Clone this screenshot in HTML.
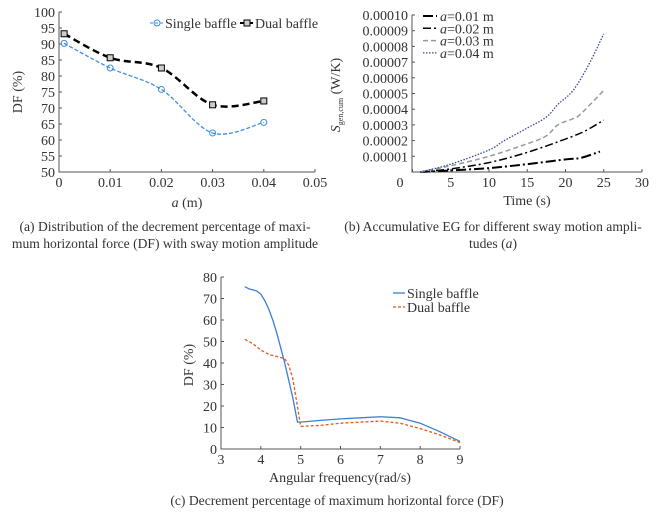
<!DOCTYPE html>
<html><head><meta charset="utf-8"><style>
body{margin:0;background:#fff}
svg{display:block;font-family:"Liberation Serif",serif;font-size:14px;fill:#333}
</style></head><body>
<svg id="s" width="657" height="513" viewBox="0 0 657 513" xmlns="http://www.w3.org/2000/svg"></svg>
<script>
// Chart (a)
const aX = [0.001, 0.01, 0.02, 0.03, 0.04];
const aSingle = [90.2, 82.5, 75.8, 62.2, 65.5];
const aDual = [93.2, 85.7, 82.5, 71, 72.2];
const aXTicks = ["0","0.01","0.02","0.03","0.04","0.05"];
const aYTicks = [50,55,60,65,70,75,80,85,90,95,100];
// Chart (b)
const bTicksX = [0,5,10,15,20,25,30];
const bTicksY = ["0.00001","0.00002","0.00003","0.00004","0.00005","0.00006","0.00007","0.00008","0.00009","0.00010"];
const bT04 = [1,5,10,12,15,17.5,19,21,23,25];
const bV04 = [0,0.5,1.4,2.0,2.8,3.5,4.3,5.2,6.8,8.8];
const bT03 = [1,5,10,15,17.5,19,21,22,25];
const bV03 = [0,0.4,1.0,1.8,2.3,3.0,3.4,3.7,5.2];
const bT02 = [1,5,10,15,20,22.5,25];
const bV02 = [0,0.2,0.6,1.25,2.1,2.6,3.3];
const bT01 = [1,5,10,15,20,22,24.5];
const bV01 = [0,0.1,0.25,0.5,0.8,0.9,1.3];
// Chart (c)
const cW1 = [3.6,3.7,3.8,3.9,4.0,4.1,4.2,4.3,4.4,4.5,4.6,4.7,4.8,4.92,5.0,5.5,6,6.5,7,7.5,8,8.5,9];
const cSingle = [75.5,74.5,74,73.5,72,69,65,60,54,47,40,32,24,12.5,12.5,13.3,14,14.5,15,14.5,12,8,3.5];
const cW2 = [3.6,3.8,4.0,4.2,4.4,4.6,4.7,4.8,4.9,5.0,5.5,6,6.5,7,7.5,8,8.5,9];
const cDual = [51,49,46,44,43,42,39,33,22,10.5,11,12,12.5,13,12,9.5,6.5,3];
const cXTicks = [3,4,5,6,7,8,9];
const cYTicks = [0,10,20,30,40,50,60,70,80];

const S = document.getElementById('s');
const NS = 'http://www.w3.org/2000/svg';
function el(tag, at, txt){const e=document.createElementNS(NS,tag);for(const k in at)e.setAttribute(k,at[k]);if(txt!==undefined)e.textContent=txt;S.appendChild(e);return e;}
function smooth(pts){let d='M'+pts[0][0]+','+pts[0][1];for(let i=0;i<pts.length-1;i++){const p0=pts[Math.max(0,i-1)],p1=pts[i],p2=pts[i+1],p3=pts[Math.min(pts.length-1,i+2)];const c1=[p1[0]+(p2[0]-p0[0])/6,p1[1]+(p2[1]-p0[1])/6],c2=[p2[0]-(p3[0]-p1[0])/6,p2[1]-(p3[1]-p1[1])/6];d+=' C'+c1+' '+c2+' '+p2;}return d;}
function poly(pts){return 'M'+pts.map(p=>p.join(',')).join(' L');}

// ---- (a)
const axA = v => 59 + v/0.05*256, ayA = v => 172 - (v-50)/50*160;
let e;
e=el('path',{d:'M59,12V172H315',fill:'none',stroke:'#555','stroke-width':1});

aYTicks.forEach(v=>{el('line',{x1:59,x2:62,y1:ayA(v),y2:ayA(v),stroke:'#555'});e=el('text',{x:55,y:ayA(v)+5,'text-anchor':'end'},v);});
aXTicks.forEach((t,i)=>{const x=axA(i*0.01);el('line',{x1:x,x2:x,y1:172,y2:169,stroke:'#555'});e=el('text',{x:x,y:187,'text-anchor':'middle'},t);});
e=el('text',{x:187,y:207,'text-anchor':'middle'});e.innerHTML='<tspan font-style="italic">a</tspan> (m)';
e=el('text',{x:22,y:92,'text-anchor':'middle',transform:'rotate(-90 22 92)'},'DF (%)');
e=el('path',{d:smooth(aX.map((x,i)=>[axA(x),ayA(aSingle[i])])),fill:'none',stroke:'#3a8ee6','stroke-width':1.3,'stroke-dasharray':'4,2'});
e=el('path',{d:smooth(aX.map((x,i)=>[axA(x),ayA(aDual[i])])),fill:'none',stroke:'#000','stroke-width':2.5,'stroke-dasharray':'7,4'});
aX.forEach((x,i)=>{e=el('circle',{cx:axA(x),cy:ayA(aSingle[i]),r:3,fill:'none',stroke:'#3a8ee6'});
e=el('rect',{x:axA(x)-3,y:ayA(aDual[i])-3,width:6,height:6,fill:'#ccc',stroke:'#000'});});
el('line',{x1:150,x2:163,y1:23,y2:23,stroke:'#3a8ee6','stroke-dasharray':'3,2'});el('circle',{cx:157,cy:23,r:3,fill:'none',stroke:'#3a8ee6'});
e=el('text',{x:165,y:28},'Single baffle');
el('line',{x1:240,x2:253,y1:23,y2:23,stroke:'#000','stroke-width':2});el('rect',{x:244,y:20,width:6,height:6,fill:'#ccc',stroke:'#000'});
e=el('text',{x:255,y:28},'Dual baffle');
e=el('text',{x:165,y:231,'text-anchor':'middle','font-size':'13.6'},'(a) Distribution of the decrement percentage of maxi-');
el('text',{x:165,y:248,'text-anchor':'middle','font-size':'13.6'},'mum horizontal force (DF) with sway motion amplitude');

// ---- (b)
const bxS = v => 412.5 + v/30*229.5, byS = v => 172 - v/10*157;
e=el('path',{d:'M412,15V172H642',fill:'none',stroke:'#555'});
bTicksY.forEach((t,i)=>{const y=byS(i+1);el('line',{x1:412,x2:415,y1:y,y2:y,stroke:'#555'});e=el('text',{x:408,y:y+5,'text-anchor':'end'},t);});
bTicksX.forEach(v=>{const x=bxS(v);el('line',{x1:x,x2:x,y1:172,y2:169,stroke:'#555'});e=el('text',{x:v===0?400:x,y:187,'text-anchor':'middle'},v);});
e=el('text',{x:527,y:205,'text-anchor':'middle'},'Time (s)');
e=el('text',{x:340,y:95,'text-anchor':'middle',transform:'rotate(-90 340 95)'});e.innerHTML='<tspan font-style="italic">S</tspan><tspan font-size="8" dy="3">gen,cum</tspan><tspan dy="-3"> (W/K)</tspan>';
const bser=[[bT01,bV01,'#000',2,'10,3,2,3','b-line-001'],[bT02,bV02,'#000',1.5,'8,3,2,3','b-line-002'],[bT03,bV03,'#999',1.5,'5,3','b-line-003'],[bT04,bV04,'#334a9a',1.3,'1.5,1.5','b-line-004']];
bser.forEach(s=>{e=el('path',{d:smooth(s[0].map((t,i)=>[bxS(t),byS(s[1][i])])),fill:'none',stroke:s[2],'stroke-width':s[3],'stroke-dasharray':s[4]});});
['0.01','0.02','0.03','0.04'].forEach((a,i)=>{const y=16+i*12.3;const s=bser[i];el('line',{x1:423,x2:437,y1:y,y2:y,stroke:s[2],'stroke-width':s[3],'stroke-dasharray':s[4]});
e=el('text',{x:440,y:y+5});e.innerHTML='<tspan font-style="italic">a</tspan>='+a+' m';});
e=el('text',{x:493,y:231,'text-anchor':'middle','font-size':'13.6'},'(b) Accumulative EG for different sway motion ampli-');
el('text',{x:493,y:248,'text-anchor':'middle','font-size':'13.6'}).innerHTML='tudes (<tspan font-style="italic">a</tspan>)';

// ---- (c)
const cxS = v => 221 + (v-3)/6*239, cyS = v => 449 - v/80*172;
e=el('path',{d:'M221,277V449H460',fill:'none',stroke:'#555'});
cYTicks.forEach(v=>{const y=cyS(v);el('line',{x1:221,x2:224,y1:y,y2:y,stroke:'#555'});e=el('text',{x:217,y:y+5,'text-anchor':'end'},v);});
cXTicks.forEach(v=>{const x=cxS(v);el('line',{x1:x,x2:x,y1:449,y2:446,stroke:'#555'});e=el('text',{x:x,y:464,'text-anchor':'middle'},v);});
e=el('text',{x:340,y:482,'text-anchor':'middle'},'Angular frequency(rad/s)');
e=el('text',{x:193,y:365,'text-anchor':'middle',transform:'rotate(-90 193 365)'},'DF (%)');
e=el('path',{d:poly(cW1.map((w,i)=>[cxS(w),cyS(cSingle[i])])),fill:'none',stroke:'#3a7fd0','stroke-width':1.3,'stroke-linejoin':'round'});
e=el('path',{d:poly(cW2.map((w,i)=>[cxS(w),cyS(cDual[i])])),fill:'none',stroke:'#e8561c','stroke-width':1.3,'stroke-dasharray':'3,2'});
el('line',{x1:393,x2:405,y1:293,y2:293,stroke:'#3a7fd0','stroke-width':1.3});
e=el('text',{x:407,y:298},'Single baffle');
el('line',{x1:393,x2:405,y1:307,y2:307,stroke:'#e8561c','stroke-width':1.3,'stroke-dasharray':'3,2'});
e=el('text',{x:407,y:312},'Dual baffle');
e=el('text',{x:337,y:505,'text-anchor':'middle','font-size':'13.6'},'(c) Decrement percentage of maximum horizontal force (DF)');
</script>
</body></html>
